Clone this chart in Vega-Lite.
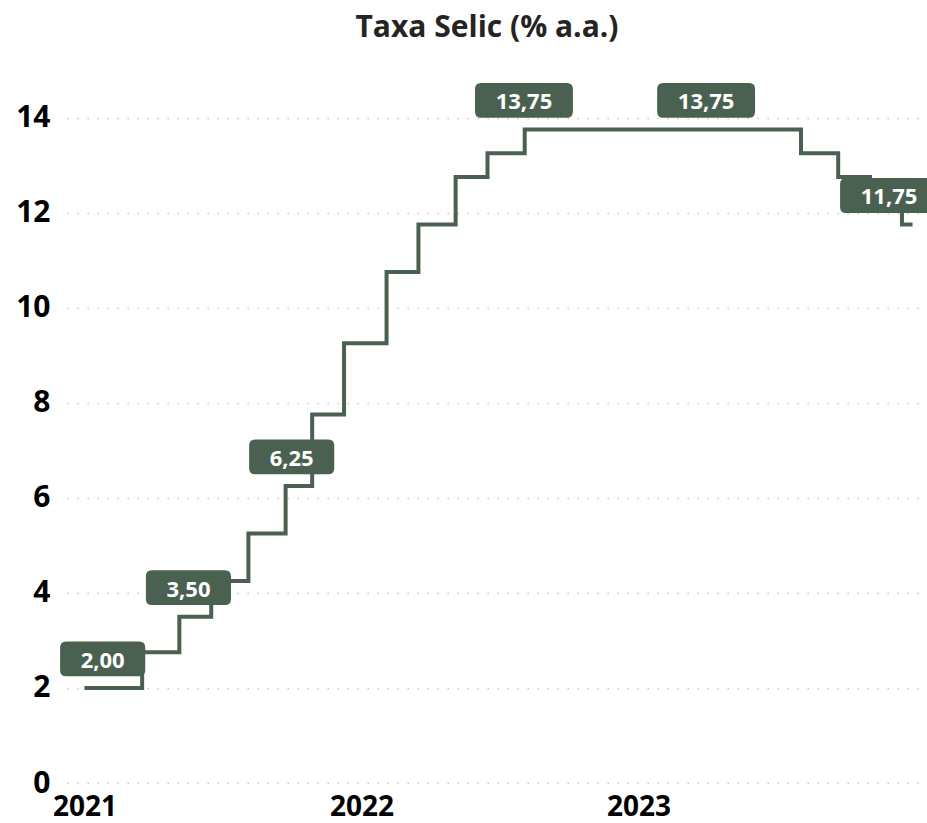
{
  "$schema": "https://vega.github.io/schema/vega-lite/v6.json",
  "width": 860,
  "height": 713,
  "autosize": {"type": "none"},
  "padding": {"left": 67, "top": 70, "right": 0, "bottom": 40},
  "background": "white",
  "title": {
    "text": "Taxa Selic (% a.a.)",
    "font": "Open Sans",
    "fontSize": 30,
    "fontWeight": "bold",
    "color": "#252423",
    "anchor": "middle",
    "baseline": "alphabetic",
    "offset": 3,
    "dx": -10
  },
  "config": {
    "view": {"stroke": null},
    "locale": {"number": {"decimal": ",", "thousands": ".", "grouping": [3], "currency": ["R$", ""]}}
  },
  "datasets": {
    "selic": [
      {"data": "2021-01-01", "valor": 2.00},
      {"data": "2021-03-18", "valor": 2.75},
      {"data": "2021-05-06", "valor": 3.50},
      {"data": "2021-06-17", "valor": 4.25},
      {"data": "2021-08-05", "valor": 5.25},
      {"data": "2021-09-23", "valor": 6.25},
      {"data": "2021-10-28", "valor": 7.75},
      {"data": "2021-12-09", "valor": 9.25},
      {"data": "2022-02-03", "valor": 10.75},
      {"data": "2022-03-17", "valor": 11.75},
      {"data": "2022-05-05", "valor": 12.75},
      {"data": "2022-06-16", "valor": 13.25},
      {"data": "2022-08-04", "valor": 13.75},
      {"data": "2023-08-03", "valor": 13.25},
      {"data": "2023-09-21", "valor": 12.75},
      {"data": "2023-11-02", "valor": 12.25},
      {"data": "2023-12-14", "valor": 11.75},
      {"data": "2023-12-28", "valor": 11.75}
    ],
    "rotulos": [
      {"data": "2021-01-25", "valor": 2.00},
      {"data": "2021-05-18", "valor": 3.50},
      {"data": "2021-10-01", "valor": 6.25},
      {"data": "2022-08-03", "valor": 13.75},
      {"data": "2023-03-31", "valor": 13.75},
      {"data": "2023-11-27", "valor": 11.75}
    ]
  },
  "encoding": {
    "x": {
      "field": "data",
      "type": "temporal",
      "scale": {
        "type": "utc",
        "domain": [
          {"year": 2020, "month": 12, "date": 9, "utc": true},
          {"year": 2024, "month": 1, "date": 16, "utc": true}
        ]
      },
      "axis": {
        "title": null,
        "format": "%Y",
        "values": [
          {"year": 2021, "month": 1, "date": 1, "utc": true},
          {"year": 2022, "month": 1, "date": 1, "utc": true},
          {"year": 2023, "month": 1, "date": 1, "utc": true}
        ],
        "grid": false,
        "domain": false,
        "ticks": false,
        "labelFont": "Open Sans",
        "labelFontSize": 28,
        "labelFontWeight": "bold",
        "labelColor": "#000000",
        "labelPadding": 10,
        "labelFlush": false
      }
    },
    "y": {
      "field": "valor",
      "type": "quantitative",
      "scale": {"domain": [0, 15], "nice": false, "zero": true},
      "axis": {
        "title": null,
        "values": [0, 2, 4, 6, 8, 10, 12, 14],
        "domain": false,
        "ticks": false,
        "grid": true,
        "gridColor": "#c8c6c4",
        "gridDash": [1.5, 8.5],
        "gridWidth": 1.5,
        "labelFont": "Open Sans",
        "labelFontSize": 30,
        "labelFontWeight": "bold",
        "labelColor": "#000000",
        "labelPadding": 17,
        "labelBaseline": "middle"
      }
    }
  },
  "layer": [
    {
      "data": {"name": "selic"},
      "mark": {"type": "line", "interpolate": "step-after", "color": "#4a6151", "strokeWidth": 4}
    },
    {
      "data": {"name": "rotulos"},
      "transform": [{"filter": "datum.valor < 10"}],
      "mark": {
        "type": "point",
        "filled": true,
        "opacity": 1,
        "color": "#4a6151",
        "strokeWidth": 0,
        "size": 1024,
        "yOffset": -29,
        "shape": "M -2.285,-1.09 L 2.285,-1.09 Q 2.66,-1.09 2.66,-0.715 L 2.66,0.715 Q 2.66,1.09 2.285,1.09 L -2.285,1.09 Q -2.66,1.09 -2.66,0.715 L -2.66,-0.715 Q -2.66,-1.09 -2.285,-1.09 Z"
      }
    },
    {
      "data": {"name": "rotulos"},
      "transform": [{"filter": "datum.valor >= 10"}],
      "mark": {
        "type": "point",
        "filled": true,
        "opacity": 1,
        "color": "#4a6151",
        "strokeWidth": 0,
        "size": 1024,
        "yOffset": -29,
        "shape": "M -2.685,-1.09 L 2.685,-1.09 Q 3.06,-1.09 3.06,-0.715 L 3.06,0.715 Q 3.06,1.09 2.685,1.09 L -2.685,1.09 Q -3.06,1.09 -3.06,0.715 L -3.06,-0.715 Q -3.06,-1.09 -2.685,-1.09 Z"
      }
    },
    {
      "data": {"name": "rotulos"},
      "mark": {
        "type": "text",
        "color": "#ffffff",
        "font": "Open Sans",
        "fontSize": 22,
        "fontWeight": "bold",
        "baseline": "middle",
        "align": "center",
        "yOffset": -27
      },
      "encoding": {
        "text": {"field": "valor", "type": "quantitative", "format": ".2f"}
      }
    }
  ]
}
